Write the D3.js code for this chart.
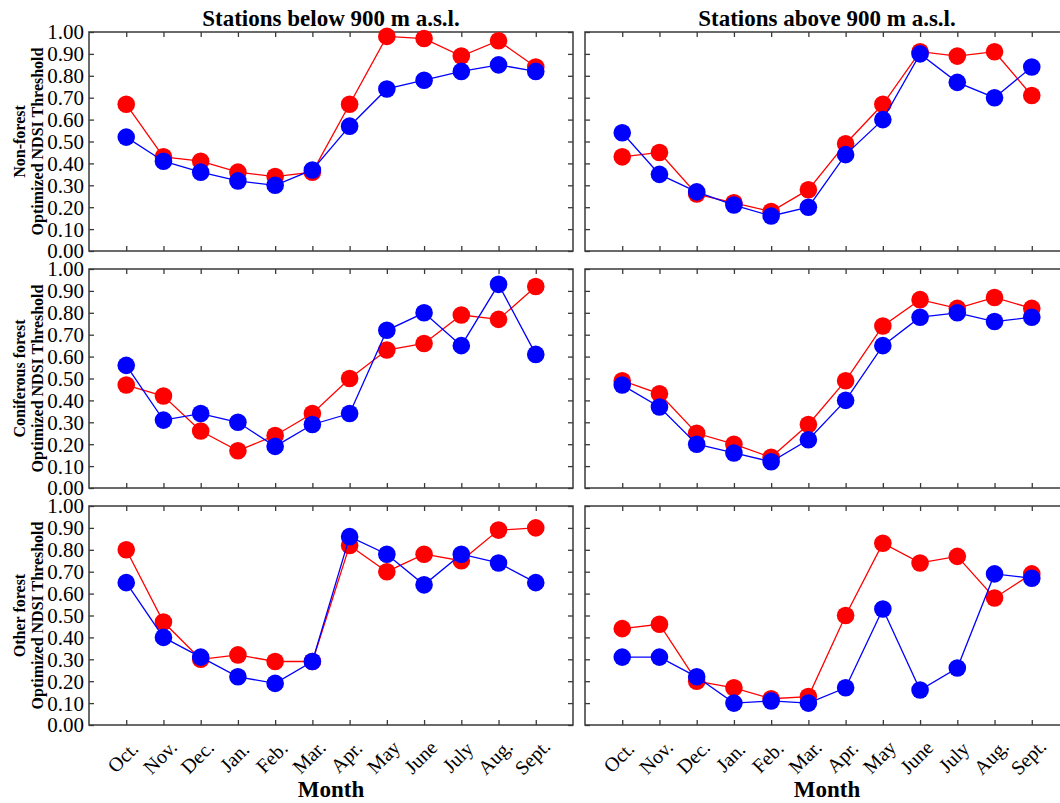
<!DOCTYPE html>
<html>
<head>
<meta charset="UTF-8">
<script src="https://d3js.org/d3.v7.min.js"></script>
<style>
body { margin: 0; background: #fff; }
text { font-family: "Liberation Serif", "Times New Roman", serif; fill: #000; }
</style>
</head>
<body>
<script>
var months = ["Oct.", "Nov.", "Dec.", "Jan.", "Feb.", "Mar.", "Apr.", "May", "June", "July", "Aug.", "Sept."];
var rowLabels = ["Non-forest", "Coniferous forest", "Other forest"];
var colTitles = ["Stations below 900 m a.s.l.", "Stations above 900 m a.s.l."];
var yTicks = [0, 0.1, 0.2, 0.3, 0.4, 0.5, 0.6, 0.7, 0.8, 0.9, 1.0];

// red / blue series, one pair per panel
var nonForestBelowRed  = [0.67, 0.43, 0.41, 0.36, 0.34, 0.36, 0.67, 0.98, 0.97, 0.89, 0.96, 0.84];
var nonForestBelowBlue = [0.52, 0.41, 0.36, 0.32, 0.30, 0.37, 0.57, 0.74, 0.78, 0.82, 0.85, 0.82];
var nonForestAboveRed  = [0.43, 0.45, 0.26, 0.22, 0.18, 0.28, 0.49, 0.67, 0.91, 0.89, 0.91, 0.71];
var nonForestAboveBlue = [0.54, 0.35, 0.27, 0.21, 0.16, 0.20, 0.44, 0.60, 0.90, 0.77, 0.70, 0.84];
var coniferBelowRed    = [0.47, 0.42, 0.26, 0.17, 0.24, 0.34, 0.50, 0.63, 0.66, 0.79, 0.77, 0.92];
var coniferBelowBlue   = [0.56, 0.31, 0.34, 0.30, 0.19, 0.29, 0.34, 0.72, 0.80, 0.65, 0.93, 0.61];
var coniferAboveRed    = [0.49, 0.43, 0.25, 0.20, 0.14, 0.29, 0.49, 0.74, 0.86, 0.82, 0.87, 0.82];
var coniferAboveBlue   = [0.47, 0.37, 0.20, 0.16, 0.12, 0.22, 0.40, 0.65, 0.78, 0.80, 0.76, 0.78];
var otherBelowRed      = [0.80, 0.47, 0.30, 0.32, 0.29, 0.29, 0.82, 0.70, 0.78, 0.75, 0.89, 0.90];
var otherBelowBlue     = [0.65, 0.40, 0.31, 0.22, 0.19, 0.29, 0.86, 0.78, 0.64, 0.78, 0.74, 0.65];
var otherAboveRed      = [0.44, 0.46, 0.20, 0.17, 0.12, 0.13, 0.50, 0.83, 0.74, 0.77, 0.58, 0.69];
var otherAboveBlue     = [0.31, 0.31, 0.22, 0.10, 0.11, 0.10, 0.17, 0.53, 0.16, 0.26, 0.69, 0.67];

var panels = [
    [[nonForestBelowRed, nonForestBelowBlue], [nonForestAboveRed, nonForestAboveBlue]],
    [[coniferBelowRed, coniferBelowBlue], [coniferAboveRed, coniferAboveBlue]],
    [[otherBelowRed, otherBelowBlue], [otherAboveRed, otherAboveBlue]]
];
var colors = ["#ff0000", "#0000ff"];

var Width = 1060, Height = 803;
var pw = 484, ph = 219;
var colX = [89, 585], rowY = [32, 269, 506];
var frameColor = "#3a3a3a";

var svg = d3.select("body").append("svg")
    .attr("width", Width).attr("height", Height);

var x = d3.scalePoint().domain(months).range([0, pw]).padding(1);
var y = d3.scaleLinear().domain([0, 1]).range([ph, 0]);
var line = d3.line().x(function(d, i){ return x(months[i]); }).y(function(d){ return y(d); });

function styleAxis(g){
    g.select(".domain").remove();
    g.selectAll(".tick line").attr("stroke", frameColor).attr("stroke-width", 1.3);
}

panels.forEach(function(row, r){
    row.forEach(function(series, c){
        var g = svg.append("g").attr("transform", "translate(" + colX[c] + "," + rowY[r] + ")");

        var left = g.append("g").call(d3.axisLeft(y).tickValues(yTicks).tickSize(-5).tickPadding(5)
            .tickFormat(c === 0 ? d3.format(".2f") : ""));
        left.selectAll("text").style("font-size", "21px").attr("dy", "0.33em");
        styleAxis(left);
        styleAxis(g.append("g").attr("transform", "translate(" + pw + ",0)")
            .call(d3.axisRight(y).tickValues(yTicks).tickSize(-5).tickFormat("")));
        styleAxis(g.append("g").call(d3.axisTop(x).tickSize(-5).tickFormat("")));
        var bottom = g.append("g").attr("transform", "translate(0," + ph + ")")
            .call(d3.axisBottom(x).tickSize(-5).tickFormat(r === 2 ? null : ""));
        styleAxis(bottom);
        if(r === 2){
            bottom.selectAll("text")
                .attr("text-anchor", "middle")
                .attr("dy", null)
                .attr("y", null)
                .attr("transform", "translate(-4,32) rotate(-45)")
                .attr("dominant-baseline", "central")
                .style("font-size", "20px");
        }

        g.append("rect")
            .attr("width", pw).attr("height", ph)
            .attr("fill", "none").attr("stroke", frameColor).attr("stroke-width", 1.5);

        series.forEach(function(vals, s){
            g.append("path").datum(vals)
                .attr("d", line)
                .attr("fill", "none")
                .attr("stroke", colors[s])
                .attr("stroke-width", 1.3);
            g.selectAll(".dot" + s).data(vals).enter().append("circle")
                .attr("cx", function(d, i){ return x(months[i]); })
                .attr("cy", function(d){ return y(d); })
                .attr("r", 8.8)
                .attr("fill", colors[s]);
        });
    });

    var cy = rowY[r] + ph / 2;
    svg.append("text")
        .attr("transform", "translate(25," + cy + ") rotate(-90)")
        .attr("text-anchor", "middle")
        .style("font-size", "16px").style("font-weight", "bold")
        .text(rowLabels[r]);
    svg.append("text")
        .attr("transform", "translate(43," + cy + ") rotate(-90)")
        .attr("text-anchor", "middle")
        .style("font-size", "16px").style("font-weight", "bold")
        .text("Optimized NDSI Threshold");
});

colTitles.forEach(function(t, c){
    svg.append("text")
        .attr("x", colX[c] + pw / 2).attr("y", 26)
        .attr("text-anchor", "middle")
        .style("font-size", "23px").style("font-weight", "bold")
        .text(t);
    svg.append("text")
        .attr("x", colX[c] + pw / 2).attr("y", 797)
        .attr("text-anchor", "middle")
        .style("font-size", "23px").style("font-weight", "bold")
        .text("Month");
});
</script>
</body>
</html>
